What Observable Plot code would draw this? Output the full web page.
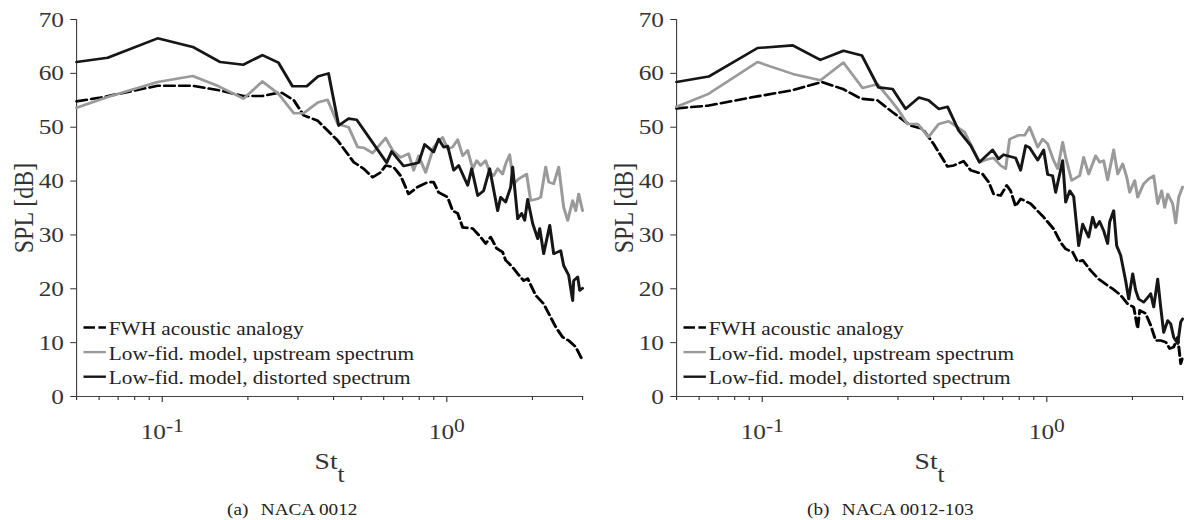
<!DOCTYPE html>
<html>
<head>
<meta charset="utf-8">
<script src="https://cdn.jsdelivr.net/npm/d3@7"></script>
<script src="https://cdn.jsdelivr.net/npm/@observablehq/plot@0.6"></script>
<style>
html,body{margin:0;padding:0;background:#fff;}
#fig{position:relative;width:1184px;height:520px;overflow:hidden;font-family:"Liberation Serif","Times New Roman",Times,serif;}
.panel{position:absolute;top:0;width:592px;height:490px;}
.panel svg{display:block;}
.cap{position:absolute;top:501px;font-size:17px;line-height:17px;color:#222;white-space:nowrap;transform:scaleX(1.13);transform-origin:0 0;}
.cap span{margin-left:11px;}
</style>
</head>
<body>
<div id="fig">
  <div class="panel" id="pa" style="left:0"></div>
  <div class="panel" id="pb" style="left:592px"></div>
</div>
<script>
// ---------------- data (St_t, SPL in dB) ----------------
const yTicks = [0, 10, 20, 30, 40, 50, 60, 70];
const xMinorTicks = [0.05, 0.06, 0.07, 0.08, 0.09, 0.2, 0.3, 0.4, 0.5, 0.6, 0.7, 0.8, 0.9, 2, 3];
const xMajorTicks = [0.1, 1];
const xMajorLabels = ["10^-1", "10^0"];
const yLabel = "SPL [dB]";
const xLabel = "St_t";
const legendLabels = ["FWH acoustic analogy", "Low-fid. model, upstream spectrum", "Low-fid. model, distorted spectrum"];
const captionTags = ["(a)", "(b)"];
const captionTitles = ["NACA 0012", "NACA 0012-103"];

// Panel (a) NACA 0012
const a_fwh = [[0.050,54.8],[0.0607,55.5],[0.0963,57.7],[0.128,57.7],[0.160,56.8],[0.193,55.8],[0.225,55.8],[0.261,56.5],[0.290,55.0],[0.314,52.2],[0.352,51.2],[0.414,47.5],[0.471,43.5],[0.510,42.3],[0.549,40.7],[0.585,41.6],[0.610,42.9],[0.650,42.6],[0.688,41.0],[0.734,37.6],[0.790,38.9],[0.857,39.8],[0.899,39.8],[0.936,37.9],[1.007,37.0],[1.048,34.5],[1.092,34.0],[1.137,31.4],[1.233,31.2],[1.315,29.6],[1.369,28.4],[1.426,29.6],[1.497,27.5],[1.571,26.8],[1.610,25.3],[1.704,24.0],[1.775,22.8],[1.863,21.5],[1.924,21.9],[2.053,18.8],[2.190,17.2],[2.318,14.7],[2.414,12.9],[2.554,11.0],[2.681,10.4],[2.838,9.2],[2.979,7.0]];
const a_up = [[0.050,53.6],[0.0643,55.6],[0.0963,58.4],[0.128,59.5],[0.158,57.6],[0.193,55.3],[0.225,58.5],[0.256,56.2],[0.290,52.6],[0.314,52.6],[0.352,54.6],[0.381,55.1],[0.414,50.6],[0.452,50.0],[0.486,46.3],[0.510,46.2],[0.549,45.2],[0.610,48.0],[0.645,45.7],[0.688,44.4],[0.734,45.1],[0.765,42.0],[0.796,44.7],[0.843,41.6],[0.899,46.3],[0.936,47.5],[0.967,48.1],[1.007,46.0],[1.048,46.3],[1.092,47.7],[1.137,44.7],[1.184,45.7],[1.233,42.3],[1.274,43.8],[1.315,42.9],[1.369,43.8],[1.415,41.6],[1.461,41.0],[1.509,42.3],[1.571,41.3],[1.610,43.2],[1.663,44.9],[1.718,39.5],[1.789,40.4],[1.908,41.3],[1.971,36.4],[2.086,36.7],[2.138,37.0],[2.226,42.6],[2.281,39.8],[2.375,39.5],[2.473,42.6],[2.575,35.1],[2.660,32.7],[2.769,36.4],[2.838,34.5],[2.908,37.6],[3.0,34.5]];
const a_dist = [[0.050,62.1],[0.0643,62.9],[0.0963,66.5],[0.128,64.9],[0.160,62.1],[0.193,61.6],[0.225,63.4],[0.256,62.0],[0.287,57.6],[0.322,57.6],[0.352,59.4],[0.384,60.0],[0.417,50.3],[0.452,51.6],[0.482,51.4],[0.615,43.4],[0.640,45.5],[0.705,42.8],[0.796,43.4],[0.836,46.8],[0.899,45.4],[0.936,47.8],[0.975,46.3],[1.007,46.5],[1.057,42.0],[1.101,42.9],[1.184,39.2],[1.223,42.3],[1.284,37.3],[1.347,38.2],[1.415,42.3],[1.509,34.5],[1.546,37.0],[1.610,36.1],[1.677,38.9],[1.704,42.6],[1.775,33.0],[1.833,34.0],[1.878,32.7],[1.924,36.6],[2.004,32.1],[2.086,29.3],[2.121,31.2],[2.190,26.5],[2.30,31.8],[2.375,26.5],[2.513,27.1],[2.575,24.3],[2.681,22.5],[2.769,17.8],[2.792,21.5],[2.884,22.2],[2.931,19.7],[3.0,20.1]];

// Panel (b) NACA 0012-103
const b_fwh = [[0.050,53.5],[0.0643,54.0],[0.091,55.5],[0.126,56.8],[0.162,58.4],[0.192,57.1],[0.222,55.3],[0.254,55.0],[0.287,52.8],[0.332,50.3],[0.366,49.7],[0.400,46.9],[0.448,42.7],[0.471,42.9],[0.510,43.7],[0.540,42.0],[0.595,41.3],[0.625,39.8],[0.650,37.6],[0.688,37.3],[0.723,39.2],[0.746,38.2],[0.777,35.3],[0.809,36.7],[0.877,35.8],[0.975,33.3],[1.057,31.1],[1.119,28.6],[1.165,27.4],[1.233,26.8],[1.284,25.0],[1.337,25.3],[1.426,23.4],[1.521,21.8],[1.636,20.6],[1.704,20.0],[1.818,18.8],[1.924,17.2],[2.020,16.6],[2.086,12.6],[2.121,16.0],[2.226,15.4],[2.318,13.2],[2.414,10.4],[2.513,10.4],[2.617,10.1],[2.703,8.9],[2.792,9.2],[2.884,11.0],[2.955,6.1],[3.0,7.3]];
const b_up = [[0.050,53.8],[0.0648,56.2],[0.0963,62.1],[0.128,59.9],[0.160,58.7],[0.193,62.0],[0.225,57.3],[0.254,58.0],[0.283,55.0],[0.299,53.4],[0.324,50.6],[0.352,50.6],[0.384,48.2],[0.417,50.6],[0.452,51.1],[0.514,49.1],[0.545,46.4],[0.580,43.5],[0.615,44.0],[0.650,44.3],[0.688,42.9],[0.717,42.3],[0.740,47.8],[0.796,48.5],[0.836,48.5],[0.870,50.0],[0.929,46.3],[0.967,47.8],[1.007,46.9],[1.057,43.8],[1.092,42.3],[1.137,47.2],[1.165,44.4],[1.223,40.1],[1.305,41.0],[1.347,44.4],[1.403,41.3],[1.485,44.7],[1.533,43.5],[1.584,43.8],[1.636,40.2],[1.718,45.8],[1.775,41.3],[1.848,43.2],[1.908,40.8],[1.955,37.9],[2.037,40.1],[2.086,37.0],[2.190,39.5],[2.281,40.4],[2.375,41.0],[2.453,35.8],[2.533,38.2],[2.596,35.1],[2.660,37.6],[2.769,35.8],[2.838,32.2],[2.908,37.0],[3.0,38.9]];
const b_dist = [[0.050,58.4],[0.0648,59.4],[0.0963,64.7],[0.128,65.2],[0.160,62.5],[0.193,64.2],[0.224,63.3],[0.256,57.4],[0.287,57.1],[0.319,53.4],[0.355,55.5],[0.384,55.0],[0.417,53.4],[0.448,53.8],[0.490,49.4],[0.540,46.6],[0.580,43.5],[0.645,45.8],[0.677,44.1],[0.705,44.9],[0.777,44.3],[0.809,42.0],[0.843,46.6],[0.870,46.2],[0.929,43.9],[0.975,45.8],[1.007,41.2],[1.048,41.0],[1.074,37.9],[1.137,43.8],[1.165,36.1],[1.204,38.2],[1.243,37.1],[1.294,28.0],[1.337,32.0],[1.403,29.6],[1.449,33.3],[1.485,31.4],[1.533,32.5],[1.584,30.8],[1.636,28.4],[1.663,32.4],[1.718,34.5],[1.760,28.0],[1.818,26.2],[1.893,21.5],[1.940,18.1],[2.004,22.8],[2.053,19.7],[2.103,18.1],[2.190,17.5],[2.262,18.4],[2.318,19.1],[2.375,16.6],[2.453,21.8],[2.513,16.6],[2.575,11.9],[2.660,14.1],[2.725,13.5],[2.792,11.0],[2.884,9.8],[2.955,13.8],[3.0,14.4]];

// ---------------- drawing ----------------
const FONT = '"Liberation Serif","Times New Roman",Times,serif';
const STRETCH = 1.15;               // the original figure is stretched horizontally
const VW = 592 / STRETCH;           // internal (unstretched) width of each panel
const VH = 490;
const seriesStyle = [
  {stroke: "#000", width: 2.6, dash: "9,4", legendDash: "10,3"},
  {stroke: "#9a9a9a", width: 2.6, dash: null, legendDash: null},
  {stroke: "#161616", width: 2.6, dash: null, legendDash: null}
];

function richText(svg) {
  d3.select(svg).selectAll("text").each(function () {
    const el = d3.select(this);
    const t = this.textContent;
    let m;
    if ((m = /^(.+)\^(.+)$/.exec(t))) {
      el.text(null);
      el.append("tspan").text(m[1]);
      el.append("tspan").attr("dy", -7).attr("font-size", "0.85em").text(m[2]);
    } else if ((m = /^(.+)_(.+)$/.exec(t))) {
      el.text(null);
      el.append("tspan").text(m[1]);
      el.append("tspan").attr("dy", 13).attr("font-size", "0.92em").text(m[2]);
    }
  });
}

function panel(id, ml, mr, series) {
  const lineMarks = [0, 1, 2].map(i => Plot.line(series[i], {
    x: d => d[0], y: d => d[1],
    stroke: seriesStyle[i].stroke, strokeWidth: seriesStyle[i].width,
    strokeDasharray: seriesStyle[i].dash || undefined,
    strokeLinejoin: "round"
  }));
  const svg = Plot.plot({
    width: VW, height: VH,
    marginLeft: ml, marginRight: mr, marginTop: 19, marginBottom: 94,
    style: {fontFamily: FONT, fontSize: "22px", color: "#333", background: "transparent"},
    x: {type: "log", domain: [0.05, 3]},
    y: {domain: [0, 70]},
    marks: [
      Plot.axisY({ticks: yTicks, tickSize: 5, tickPadding: 6, fontSize: 22, label: null}),
      Plot.axisX({ticks: xMinorTicks, tickSize: 4, tickFormat: () => "", label: null}),
      Plot.axisX({ticks: xMajorTicks, tickSize: 6, tickPadding: 21, fontSize: 22,
        tickFormat: d => xMajorLabels[xMajorTicks.indexOf(d)], label: null}),
      Plot.ruleX([0.05], {stroke: "#444", strokeWidth: 1}),
      Plot.ruleY([0], {stroke: "#444", strokeWidth: 1}),
      Plot.text([yLabel], {text: d => d, frameAnchor: "left", textAnchor: "middle", rotate: -90, dx: -46, fontSize: 24, fill: "#333"}),
      Plot.text([xLabel], {text: d => d, frameAnchor: "bottom", textAnchor: "middle", dy: 72, fontSize: 24, fill: "#333"}),
      lineMarks[0], lineMarks[1], lineMarks[2]
    ]
  });
  // legend (inside the plot area, lower left)
  const g = d3.select(svg).append("g")
    .attr("font-family", FONT).attr("font-size", 18.5).attr("fill", "#222")
    .attr("text-anchor", "start");
  legendLabels.forEach((lab, i) => {
    const yb = 335 + i * 24.6;
    const st = seriesStyle[i];
    g.append("line")
      .attr("x1", ml + 6.5).attr("x2", ml + 26).attr("y1", yb - 7.5).attr("y2", yb - 7.5)
      .attr("stroke", st.stroke).attr("stroke-width", 2.4)
      .attr("stroke-dasharray", st.legendDash);
    g.append("text").attr("x", ml + 28.5).attr("y", yb).attr("text-anchor", "start").text(lab);
  });
  richText(svg);
  svg.setAttribute("viewBox", `0 0 ${VW} ${VH}`);
  svg.setAttribute("preserveAspectRatio", "none");
  svg.setAttribute("width", 592);
  svg.setAttribute("height", VH);
  svg.style.width = "592px";
  svg.style.height = VH + "px";
  svg.style.maxWidth = "none";
  svg.style.overflow = "visible";
  document.getElementById(id).appendChild(svg);
}

panel("pa", 76 / STRETCH, 10 / STRETCH, [a_fwh, a_up, a_dist]);
panel("pb", 84 / STRETCH, 2 / STRETCH, [b_fwh, b_up, b_dist]);

// captions
const fig = document.getElementById("fig");
[227, 807].forEach((left, i) => {
  const c = document.createElement("div");
  c.className = "cap";
  c.style.left = left + "px";
  c.textContent = captionTags[i];
  const s = document.createElement("span");
  s.textContent = captionTitles[i];
  c.appendChild(s);
  fig.appendChild(c);
});
</script>
</body>
</html>
